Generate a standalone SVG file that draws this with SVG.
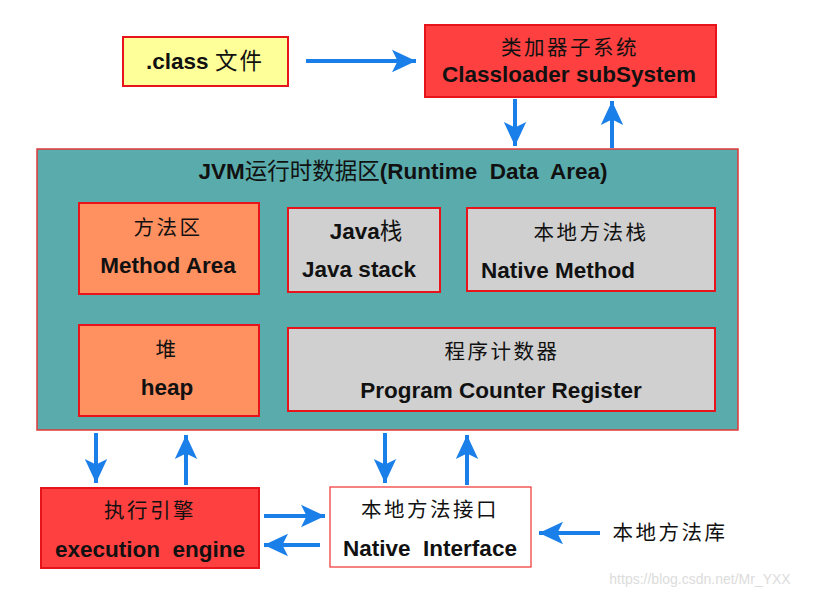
<svg xmlns="http://www.w3.org/2000/svg" width="813" height="596" viewBox="0 0 813 596">
<defs>
<marker id="ah" markerWidth="7" markerHeight="6" refX="6" refY="3" orient="auto" markerUnits="strokeWidth">
<path d="M0,0.2 L6,3 L0,5.8 L1.4,3 Z" fill="#1a7fe8"/>
</marker>
<style>
.en{font-family:"Liberation Sans",Arial,"Noto Sans CJK SC",sans-serif;font-weight:bold;font-size:22.5px;fill:#111;text-anchor:middle;white-space:pre}
.zh{font-family:"Noto Sans CJK SC",sans-serif;font-size:20.5px;letter-spacing:2.5px;fill:#111;text-anchor:middle}
.cj{font-family:"Noto Sans CJK SC",sans-serif;font-weight:normal}
.box{stroke:#e8141c;stroke-width:2}
.conn line{stroke:#1a7fe8;stroke-width:4;marker-end:url(#ah)}
</style>
</defs>
<rect width="813" height="596" fill="#fff"/>
<g id="classfile"><rect class="box" x="123" y="37" width="165" height="49" fill="#ffff99" stroke-width="1.5"/><text class="en" x="205" y="69" xml:space="preserve">.class <tspan class="cj" letter-spacing="2">文件</tspan></text></g>
<g id="classloader"><rect class="box" x="425" y="25" width="291" height="72" fill="#ff4040"/><text class="zh" x="570" y="55">类加器子系统</text><text class="en" x="569" y="82">Classloader subSystem</text></g>
<g id="jvm"><rect x="37" y="149" width="701" height="281" fill="#5aacac" stroke="#e03838" stroke-width="1.5"/><text class="en" x="403" y="179" xml:space="preserve">JVM<tspan class="cj" font-weight="bold">运行时数据区</tspan>(Runtime  Data  Area)</text></g>
<g id="method"><rect class="box" x="79" y="203" width="180" height="91" fill="#ff9060"/><text class="zh" x="168" y="235">方法区</text><text class="en" x="168" y="273">Method Area</text></g>
<g id="javastack"><rect class="box" x="288" y="208" width="152" height="84" fill="#d0d0d0"/><text class="en" x="366" y="239">Java<tspan class="cj" font-weight="bold">栈</tspan></text><text class="en" x="359" y="277">Java stack</text></g>
<g id="nativestack"><rect class="box" x="467" y="208" width="248" height="83" fill="#d0d0d0"/><text class="zh" x="591" y="240">本地方法栈</text><text class="en" x="558" y="278">Native Method</text></g>
<g id="heap"><rect class="box" x="79" y="325" width="180" height="91" fill="#ff9060"/><text class="zh" x="167" y="357">堆</text><text class="en" x="167" y="395">heap</text></g>
<g id="pc"><rect class="box" x="288" y="328" width="427" height="83" fill="#d0d0d0"/><text class="zh" x="502" y="359">程序计数器</text><text class="en" x="501" y="398">Program Counter Register</text></g>
<g id="engine"><rect class="box" x="41" y="488" width="218" height="80" fill="#ff4040"/><text class="zh" x="150" y="518">执行引擎</text><text class="en" x="150" y="557" xml:space="preserve">execution  engine</text></g>
<g id="nativeif"><rect x="330" y="487" width="201" height="80" fill="#fff" stroke="#f03030" stroke-width="1.2"/><text class="zh" x="430" y="517">本地方法接口</text><text class="en" x="430" y="556" xml:space="preserve">Native  Interface</text></g>
<g id="nativelib"><text class="zh" x="670" y="540">本地方法库</text></g>
<g class="conn">
<line x1="306" y1="61" x2="416" y2="61"/>
<line x1="515" y1="99" x2="515" y2="146"/>
<line x1="612" y1="148" x2="612" y2="101"/>
<line x1="96" y1="433" x2="96" y2="483"/>
<line x1="186" y1="485" x2="186" y2="435"/>
<line x1="385" y1="433" x2="385" y2="483"/>
<line x1="467" y1="485" x2="467" y2="435"/>
<line x1="264" y1="516" x2="325" y2="516"/>
<line x1="320" y1="545" x2="264" y2="545"/>
<line x1="600" y1="533" x2="539" y2="533"/>
</g>
<text x="700" y="584" font-family="Liberation Sans,sans-serif" font-size="14" fill="#dcdcdc" text-anchor="middle">https://blog.csdn.net/Mr_YXX</text>
</svg>
